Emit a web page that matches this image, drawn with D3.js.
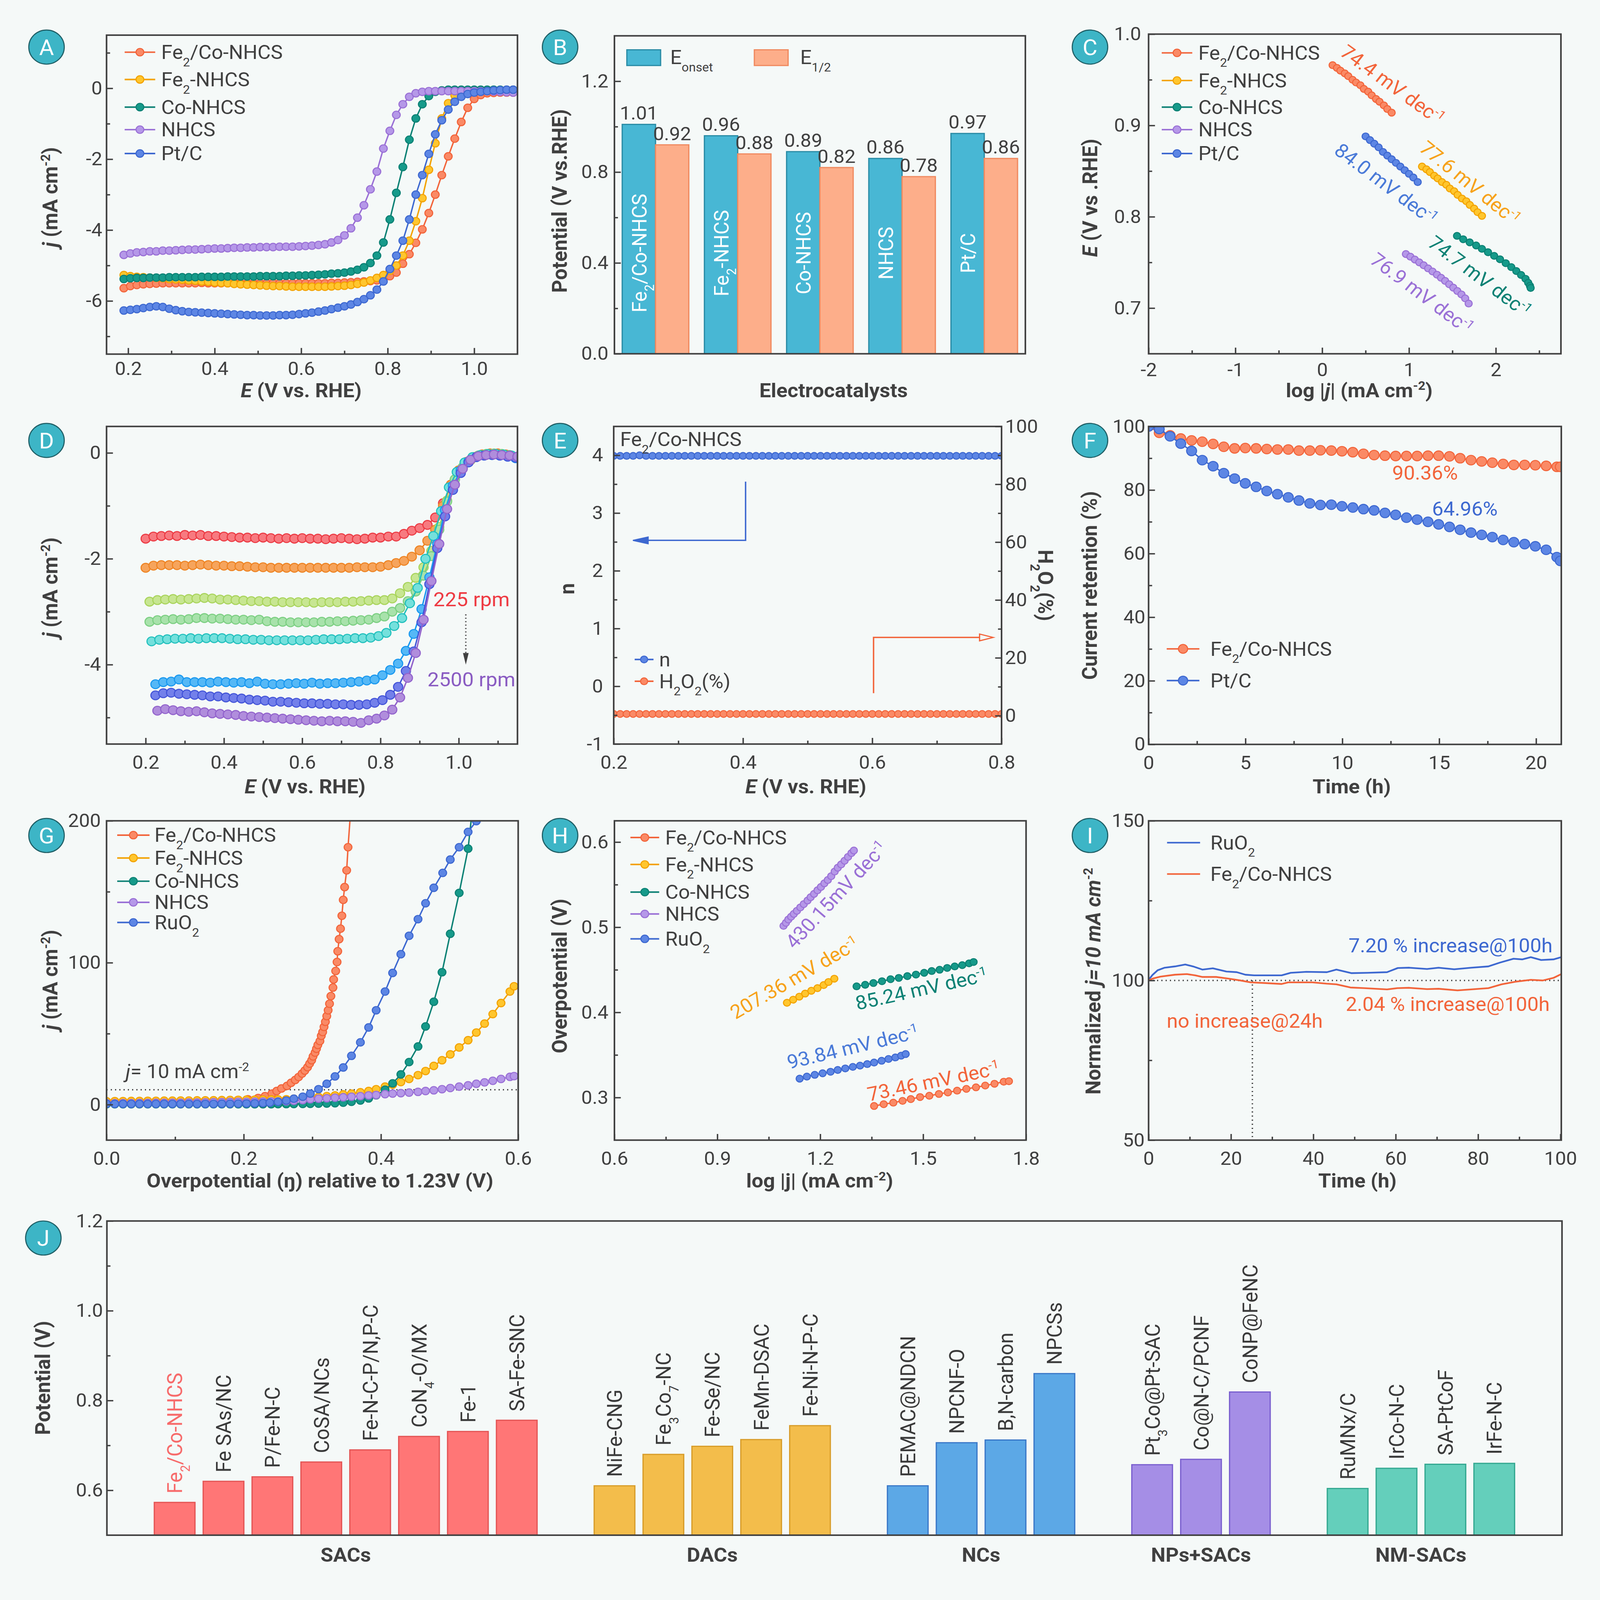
<!DOCTYPE html>
<html>
<head>
<meta charset="utf-8">
<script src="https://d3js.org/d3.v7.min.js"></script>
<style>
  html, body { margin: 0; padding: 0; overflow: hidden; background: #f5f9f8; }
  svg { display: block; width: 100vw; height: 100vh; }
</style>
</head>
<body>
<script>
// ---------------- data ----------------

// A: ORR polarisation curves, j (mA cm-2) read every 15 mV starting at 0.19 V
const aStart = 0.19, aStep = 0.015;
const aFeCo = [-5.64,-5.58,-5.55,-5.53,-5.52,-5.51,-5.50,-5.50,-5.50,-5.50,
  -5.50,-5.50,-5.49,-5.50,-5.50,-5.50,-5.50,-5.49,-5.50,-5.50,
  -5.50,-5.50,-5.50,-5.49,-5.50,-5.50,-5.50,-5.50,-5.50,-5.50,
  -5.50,-5.50,-5.49,-5.49,-5.48,-5.47,-5.46,-5.45,-5.44,-5.42,
  -5.38,-5.30,-5.20,-4.95,-4.68,-4.36,-3.98,-3.52,-3.00,-2.45,
  -1.92,-1.42,-0.95,-0.55,-0.30,-0.19,-0.14,-0.13,-0.12,-0.12,-0.12];
const aFe = [-5.27,-5.30,-5.32,-5.33,-5.34,-5.35,-5.36,-5.38,-5.39,-5.40,
  -5.42,-5.43,-5.45,-5.46,-5.48,-5.49,-5.50,-5.52,-5.53,-5.54,
  -5.55,-5.56,-5.57,-5.58,-5.58,-5.59,-5.60,-5.60,-5.60,-5.60,
  -5.60,-5.60,-5.59,-5.58,-5.57,-5.55,-5.52,-5.48,-5.42,-5.35,
  -5.27,-5.15,-5.00,-4.72,-4.30,-3.75,-3.10,-2.30,-1.55,-0.85,
  -0.42,-0.20,-0.09,-0.06,-0.05,-0.05,-0.05,-0.05,-0.05,-0.05,-0.05];
const aCo = [-5.38,-5.36,-5.35,-5.35,-5.34,-5.34,-5.34,-5.33,-5.33,-5.33,
  -5.33,-5.33,-5.32,-5.32,-5.32,-5.32,-5.31,-5.31,-5.31,-5.31,
  -5.31,-5.30,-5.30,-5.30,-5.30,-5.29,-5.29,-5.28,-5.28,-5.27,
  -5.26,-5.25,-5.23,-5.22,-5.20,-5.17,-5.12,-5.05,-4.93,-4.72,
  -4.35,-3.70,-2.95,-2.22,-1.45,-0.85,-0.45,-0.22,-0.10,-0.06,
  -0.04,-0.04,-0.04,-0.04,-0.04,-0.04,-0.04,-0.04,-0.04,-0.04,-0.04];
const aNhcs = [-4.70,-4.66,-4.63,-4.62,-4.60,-4.60,-4.58,-4.58,-4.57,-4.56,
  -4.55,-4.55,-4.54,-4.53,-4.52,-4.52,-4.51,-4.50,-4.50,-4.49,
  -4.49,-4.48,-4.48,-4.48,-4.47,-4.47,-4.47,-4.46,-4.45,-4.44,
  -4.42,-4.40,-4.35,-4.28,-4.15,-3.95,-3.65,-3.30,-2.85,-2.35,
  -1.70,-1.20,-0.75,-0.45,-0.24,-0.14,-0.10,-0.08,-0.08,-0.08,
  -0.08,-0.08,-0.08,-0.08,-0.08,-0.08,-0.08,-0.09,-0.10,-0.11,-0.12];
const aPt = [-6.27,-6.25,-6.23,-6.20,-6.17,-6.15,-6.17,-6.22,-6.26,-6.29,
  -6.31,-6.32,-6.33,-6.34,-6.35,-6.36,-6.37,-6.38,-6.39,-6.40,
  -6.40,-6.41,-6.41,-6.41,-6.40,-6.40,-6.39,-6.37,-6.35,-6.33,
  -6.30,-6.27,-6.23,-6.19,-6.15,-6.10,-6.03,-5.95,-5.84,-5.68,
  -5.45,-5.10,-4.72,-4.30,-3.70,-3.00,-2.45,-1.85,-1.30,-0.90,
  -0.60,-0.38,-0.24,-0.16,-0.12,-0.10,-0.08,-0.06,-0.05,-0.04,-0.04];
const catalystsA = ["Fe{_2}/Co-NHCS", "Fe{_2}-NHCS", "Co-NHCS", "NHCS", "Pt/C"];

// B: onset and half-wave potentials
const bCats = ["Fe{_2}/Co-NHCS", "Fe{_2}-NHCS", "Co-NHCS", "NHCS", "Pt/C"];
const bOnset = [1.01, 0.96, 0.89, 0.86, 0.97];
const bHalf = [0.92, 0.88, 0.82, 0.78, 0.86];

// C: Tafel plots [log|j|, E]
const cFeCo = [[0.12,0.966],[0.17,0.963],[0.21,0.960],[0.26,0.957],[0.30,0.954],[0.35,0.950],[0.39,0.947],[0.44,0.944],
  [0.48,0.940],[0.53,0.937],[0.57,0.933],[0.62,0.929],[0.66,0.926],[0.71,0.922],[0.75,0.918],[0.80,0.914]];
const cFe = [[1.15,0.855],[1.20,0.852],[1.24,0.849],[1.29,0.845],[1.33,0.842],[1.38,0.838],[1.43,0.835],[1.47,0.831],
  [1.52,0.828],[1.56,0.824],[1.61,0.820],[1.66,0.817],[1.70,0.813],[1.75,0.809],[1.79,0.805],[1.84,0.801]];
const cCo = [[1.553,0.7791],[1.624,0.7754],[1.699,0.7720],[1.773,0.7686],[1.840,0.7649],[1.910,0.7612],[1.981,0.7572],
  [2.048,0.7535],[2.114,0.7492],[2.178,0.7449],[2.236,0.7406],[2.291,0.7363],[2.342,0.7321],[2.373,0.7278],[2.393,0.7244],[2.401,0.7221]];
const cNhcs = [[0.964,0.7592],[1.016,0.7563],[1.067,0.7532],[1.118,0.7501],[1.169,0.7469],[1.220,0.7435],[1.271,0.7401],
  [1.322,0.7366],[1.369,0.7332],[1.416,0.7298],[1.463,0.7261],[1.510,0.7224],[1.557,0.7187],[1.604,0.7150],[1.647,0.7107],[1.687,0.7050]];
const cPt = [[0.50,0.888],[0.55,0.884],[0.60,0.880],[0.65,0.876],[0.70,0.871],[0.75,0.867],[0.80,0.863],[0.85,0.859],
  [0.90,0.855],[0.95,0.851],[1.00,0.847],[1.05,0.843],[1.10,0.838]];
const cSlopes = ["74.4", "77.6", "74.7", "76.9", "84.0"];

// D: LSV at different rotation rates, j every 20 mV from each start potential
const dStarts = [0.20, 0.20, 0.21, 0.21, 0.215, 0.225, 0.225, 0.23];
const d225 = [-1.62,-1.58,-1.57,-1.56,-1.57,-1.55,-1.56,-1.55,-1.57,-1.57,
  -1.58,-1.59,-1.60,-1.60,-1.61,-1.60,-1.61,-1.62,-1.61,-1.62,
  -1.61,-1.62,-1.62,-1.63,-1.62,-1.61,-1.62,-1.63,-1.62,-1.60,
  -1.60,-1.58,-1.58,-1.53,-1.47,-1.42,-1.36,-1.22,-0.95,-0.60,
  -0.33,-0.17,-0.08,-0.03,-0.01,-0.01,-0.03];
const d400 = [-2.17,-2.13,-2.12,-2.12,-2.12,-2.13,-2.12,-2.11,-2.12,-2.13,
  -2.13,-2.14,-2.14,-2.15,-2.16,-2.16,-2.17,-2.17,-2.17,-2.17,
  -2.17,-2.17,-2.17,-2.17,-2.17,-2.17,-2.17,-2.16,-2.16,-2.16,
  -2.15,-2.12,-2.08,-2.04,-1.96,-1.84,-1.66,-1.45,-1.00,-0.60,
  -0.33,-0.17,-0.08,-0.03,-0.01,-0.01,-0.03];
const d625 = [-2.81,-2.78,-2.77,-2.76,-2.77,-2.76,-2.75,-2.74,-2.75,-2.77,
  -2.77,-2.78,-2.79,-2.80,-2.80,-2.81,-2.81,-2.82,-2.82,-2.82,
  -2.82,-2.83,-2.82,-2.82,-2.82,-2.81,-2.81,-2.80,-2.79,-2.78,
  -2.78,-2.75,-2.65,-2.53,-2.36,-2.16,-1.85,-1.40,-0.90,-0.50,
  -0.28,-0.14,-0.05,-0.02,-0.01,-0.02,-0.04];
const d900 = [-3.19,-3.16,-3.15,-3.14,-3.15,-3.14,-3.12,-3.12,-3.13,-3.13,
  -3.14,-3.15,-3.15,-3.16,-3.15,-3.18,-3.19,-3.19,-3.20,-3.20,
  -3.20,-3.20,-3.19,-3.19,-3.18,-3.18,-3.17,-3.16,-3.15,-3.12,
  -3.09,-3.00,-2.93,-2.80,-2.62,-2.32,-1.95,-1.45,-0.92,-0.50,
  -0.27,-0.13,-0.05,-0.02,-0.01,-0.02,-0.04];
const d1225 = [-3.56,-3.53,-3.52,-3.51,-3.51,-3.50,-3.51,-3.50,-3.50,-3.50,
  -3.51,-3.52,-3.52,-3.53,-3.53,-3.54,-3.54,-3.54,-3.54,-3.54,
  -3.54,-3.53,-3.52,-3.52,-3.52,-3.51,-3.50,-3.50,-3.49,-3.46,
  -3.40,-3.27,-3.12,-2.84,-2.55,-2.00,-1.57,-1.10,-0.65,-0.36,
  -0.18,-0.08,-0.04,-0.02,-0.02,-0.03,-0.05];
const d1600 = [-4.37,-4.33,-4.32,-4.28,-4.33,-4.33,-4.33,-4.34,-4.32,-4.33,
  -4.34,-4.33,-4.35,-4.32,-4.36,-4.37,-4.37,-4.36,-4.35,-4.36,
  -4.34,-4.36,-4.35,-4.35,-4.34,-4.33,-4.32,-4.30,-4.28,-4.20,
  -4.10,-3.98,-3.74,-3.42,-2.95,-2.35,-1.72,-1.08,-0.62,-0.33,
  -0.16,-0.08,-0.05,-0.04,-0.05,-0.07,-0.10];
const d2025 = [-4.58,-4.54,-4.53,-4.55,-4.56,-4.57,-4.58,-4.60,-4.60,-4.62,
  -4.63,-4.64,-4.66,-4.67,-4.68,-4.70,-4.70,-4.71,-4.72,-4.73,
  -4.73,-4.74,-4.74,-4.75,-4.75,-4.76,-4.76,-4.75,-4.72,-4.67,
  -4.57,-4.42,-4.12,-3.75,-3.20,-2.48,-1.80,-1.20,-0.70,-0.38,
  -0.18,-0.08,-0.05,-0.04,-0.05,-0.07,-0.09];
const d2500 = [-4.87,-4.84,-4.86,-4.88,-4.89,-4.88,-4.90,-4.92,-4.93,-4.94,
  -4.95,-4.97,-4.98,-4.99,-5.00,-5.01,-5.02,-5.03,-5.04,-5.05,
  -5.06,-5.07,-5.06,-5.07,-5.07,-5.08,-5.10,-5.05,-5.02,-4.96,
  -4.85,-4.62,-4.25,-3.78,-3.15,-2.42,-1.72,-1.06,-0.60,-0.30,
  -0.13,-0.06,-0.04,-0.03,-0.04,-0.05,-0.07];

// E: electron transfer number and peroxide yield, every 10 mV from 0.2 V
const eStart = 0.2, eStep = 0.01;
const eN = [3.99,3.99,3.99,3.99,4.00,3.99,3.99,3.99,3.99,3.99,
  3.99,3.99,3.99,3.99,3.99,3.99,3.99,3.99,3.99,3.99,
  3.99,3.99,3.99,3.99,3.99,3.99,3.99,3.99,3.99,3.99,
  3.99,3.99,3.99,3.99,3.99,3.99,3.99,3.99,3.99,3.99,
  3.99,3.99,3.99,3.99,3.99,3.99,3.99,3.99,3.99,3.99,
  3.99,3.99,3.99,3.99,3.99,3.99,3.99,3.99,3.99,3.99,3.99];
const eH2O2 = [0.6,0.6,0.6,0.6,0.6,0.6,0.6,0.6,0.6,0.6,
  0.6,0.6,0.6,0.6,0.6,0.6,0.6,0.6,0.6,0.6,
  0.6,0.6,0.6,0.6,0.6,0.6,0.6,0.6,0.6,0.6,
  0.6,0.6,0.6,0.6,0.6,0.6,0.6,0.6,0.6,0.6,
  0.6,0.6,0.6,0.6,0.6,0.6,0.6,0.6,0.6,0.6,
  0.6,0.6,0.6,0.6,0.6,0.6,0.6,0.6,0.6,0.6,0.6];

// F: chronoamperometric current retention (%)
const fTime = [0,0.55,1.11,1.66,2.22,2.77,3.33,3.88,4.44,4.99,5.55,6.10,6.65,7.21,7.76,8.32,8.87,9.43,9.98,10.54,
  11.09,11.64,12.20,12.75,13.31,13.86,14.42,14.97,15.53,16.08,16.64,17.19,17.74,18.30,18.85,19.41,19.96,20.52,21.07,21.25];
const fFeCo = [100,98.0,97.2,96.2,95.6,95.2,94.5,93.6,93.1,93.2,93.1,92.9,92.75,92.75,92.4,92.4,92.5,92.4,92.2,91.9,
  91.4,91.0,90.8,90.7,90.7,90.7,90.8,90.8,90.6,90.0,89.4,89.0,88.6,88.2,87.9,87.9,87.8,87.6,87.3,87.3];
const fPt = [100,99.2,96.9,94.6,92.3,89.4,87.5,85.3,83.6,82.1,81.0,79.7,78.7,77.7,76.7,75.8,75.3,75.4,74.9,74.5,
  74.0,73.6,72.8,72.2,71.3,70.7,70.0,69.2,68.4,67.5,66.6,65.9,65.2,64.3,63.6,63.0,62.3,61.2,58.9,57.7];

// G: OER polarisation [overpotential V, j mA cm-2]
const gFeCo = [[0,1.3],[0.012,1.4],[0.024,1.5],[0.036,1.5],[0.048,1.6],[0.06,1.6],[0.072,1.7],[0.084,1.7],[0.096,1.8],
  [0.108,1.9],[0.12,1.9],[0.132,2.0],[0.144,2.1],[0.156,2.3],[0.168,2.5],[0.18,2.8],[0.191,3.1],[0.206,3.8],[0.221,4.7],
  [0.231,6.0],[0.241,7.8],[0.248,9.6],[0.255,11.4],[0.263,13.2],[0.269,15.4],[0.275,17.4],[0.28,19.5],[0.285,21.9],
  [0.289,24.0],[0.293,26.4],[0.296,28.9],[0.299,31.3],[0.301,34.0],[0.304,36.7],[0.306,39.4],[0.308,42.1],[0.311,44.8],
  [0.313,48.5],[0.315,51.2],[0.317,54.8],[0.319,58.4],[0.321,62.4],[0.323,66.5],[0.325,71.1],[0.327,76.5],[0.33,82.5],
  [0.331,88.2],[0.334,94.2],[0.336,100.5],[0.337,108.1],[0.339,116.6],[0.341,124.0],[0.343,133.1],[0.345,144.3],
  [0.347,153.3],[0.35,165.1],[0.352,181.4],[0.358,222]];
const gFe = [[0,2.4],[0.012,2.5],[0.024,2.5],[0.036,2.6],[0.048,2.6],[0.06,2.7],[0.072,2.7],[0.084,2.8],[0.096,2.8],
  [0.108,2.9],[0.12,2.9],[0.132,3.0],[0.144,3.0],[0.156,3.1],[0.168,3.2],[0.18,3.3],[0.192,3.4],[0.204,3.5],[0.216,3.5],
  [0.228,3.6],[0.24,3.7],[0.25,3.7],[0.262,3.8],[0.273,4.2],[0.286,4.5],[0.297,4.9],[0.309,5.4],[0.321,6.0],[0.333,6.5],
  [0.345,7.2],[0.357,7.8],[0.37,8.7],[0.382,9.6],[0.393,10.9],[0.406,12.7],[0.417,14.1],[0.429,15.9],[0.441,18.1],
  [0.454,20.8],[0.465,23.7],[0.477,27.3],[0.489,31.3],[0.501,35.4],[0.514,40.3],[0.527,45.4],[0.539,50.8],[0.551,57.1],
  [0.563,63.8],[0.575,71.6],[0.588,79.7],[0.594,83.4]];
const gCo = [[0,0.3],[0.012,0.3],[0.024,0.3],[0.036,0.3],[0.048,0.3],[0.06,0.3],[0.072,0.3],[0.084,0.3],[0.096,0.3],
  [0.108,0.3],[0.12,0.3],[0.132,0.3],[0.144,0.3],[0.156,0.3],[0.168,0.3],[0.18,0.3],[0.192,0.3],[0.204,0.3],[0.216,0.3],
  [0.228,0.3],[0.24,0.3],[0.25,0.35],[0.262,0.4],[0.273,0.45],[0.286,0.5],[0.297,0.6],[0.309,0.7],[0.321,0.8],[0.333,1.0],
  [0.345,1.4],[0.357,2.0],[0.37,2.9],[0.382,4.4],[0.393,6.6],[0.406,10.5],[0.417,15.0],[0.429,21.3],[0.441,30.0],
  [0.454,41.0],[0.465,55.1],[0.477,72.5],[0.489,93.3],[0.501,120.4],[0.514,149.2],[0.527,180.4],[0.537,225]];
const gNhcs = [[0,1.0],[0.012,1.0],[0.024,1.1],[0.036,1.1],[0.048,1.2],[0.06,1.2],[0.072,1.3],[0.084,1.3],[0.096,1.4],
  [0.108,1.4],[0.12,1.5],[0.132,1.5],[0.144,1.6],[0.156,1.7],[0.168,1.8],[0.18,1.9],[0.192,2.0],[0.204,2.0],[0.216,2.1],
  [0.228,2.2],[0.24,2.3],[0.25,2.3],[0.262,2.4],[0.273,2.7],[0.286,3.2],[0.297,3.8],[0.309,4.2],[0.321,4.5],[0.333,4.9],
  [0.345,5.2],[0.357,5.6],[0.37,6.0],[0.382,6.5],[0.393,6.8],[0.406,7.4],[0.417,7.8],[0.429,8.1],[0.441,8.5],[0.454,9.0],
  [0.465,9.6],[0.477,10.1],[0.489,10.9],[0.501,11.7],[0.514,12.7],[0.527,13.6],[0.539,14.7],[0.551,15.7],[0.563,16.8],
  [0.575,18.1],[0.588,19.6],[0.594,20.1]];
const gRuO2 = [[0,0.6],[0.012,0.5],[0.024,0.5],[0.036,0.5],[0.048,0.5],[0.06,0.5],[0.072,0.5],[0.084,0.5],[0.096,0.5],
  [0.108,0.5],[0.12,0.5],[0.132,0.5],[0.144,0.5],[0.156,0.5],[0.168,0.6],[0.18,0.6],[0.192,0.7],[0.204,0.8],[0.216,0.9],
  [0.228,1.1],[0.238,1.4],[0.25,2.0],[0.262,2.9],[0.273,4.2],[0.286,5.6],[0.297,7.8],[0.309,10.9],[0.321,14.7],
  [0.333,19.9],[0.345,26.2],[0.357,34.4],[0.37,43.9],[0.382,54.4],[0.393,66.5],[0.406,79.7],[0.417,92.8],[0.429,106.0],
  [0.441,119.0],[0.454,130.7],[0.465,141.9],[0.477,152.8],[0.49,163.3],[0.501,172.7],[0.514,181.4],[0.527,192.2],
  [0.539,199.8],[0.55,225]];
const catalystsG = ["Fe{_2}/Co-NHCS", "Fe{_2}-NHCS", "Co-NHCS", "NHCS", "RuO{_2}"];

// H: OER Tafel plots [log|j|, overpotential V]
const hFeCo = [[1.357,0.2901],[1.385,0.2922],[1.413,0.2940],[1.440,0.2961],[1.464,0.2982],[1.491,0.3006],[1.518,0.3021],
  [1.546,0.3042],[1.572,0.3060],[1.599,0.3081],[1.626,0.3102],[1.654,0.3120],[1.681,0.3141],[1.708,0.3162],[1.735,0.3186],[1.750,0.3192]];
const hFe = [[1.103,0.4113],[1.121,0.4149],[1.139,0.4185],[1.156,0.4221],[1.174,0.4254],[1.192,0.4285],[1.210,0.4321],
  [1.224,0.4357],[1.241,0.4396]];
const hCo = [[1.306,0.4306],[1.331,0.4324],[1.355,0.4345],[1.380,0.4366],[1.405,0.4390],[1.429,0.4405],[1.454,0.4426],
  [1.479,0.4444],[1.503,0.4465],[1.525,0.4486],[1.548,0.4501],[1.570,0.4522],[1.592,0.4540],[1.614,0.4555],[1.634,0.4576],[1.647,0.4592]];
const hNhcs = [[1.093,0.5016],[1.100,0.5052],[1.107,0.5091],[1.115,0.5124],[1.123,0.5157],[1.132,0.5193],[1.142,0.5233],
  [1.152,0.5272],[1.163,0.5314],[1.172,0.5353],[1.182,0.5392],[1.192,0.5434],[1.202,0.5473],[1.212,0.5516],[1.222,0.5555],
  [1.232,0.5600],[1.242,0.5654],[1.251,0.5699],[1.261,0.5738],[1.271,0.5781],[1.281,0.5826],[1.291,0.5871],[1.298,0.5901]];
const hRuO2 = [[1.140,0.3222],[1.161,0.3246],[1.184,0.3267],[1.207,0.3285],[1.230,0.3303],[1.251,0.3324],[1.273,0.3342],
  [1.295,0.3360],[1.316,0.3375],[1.337,0.3393],[1.357,0.3411],[1.379,0.3432],[1.399,0.3453],[1.419,0.3471],[1.436,0.3492],[1.449,0.3511]];
const hSlopes = ["73.46", "207.36", "85.24", "430.15", "93.84"];

// I: long-term OER stability, normalised potential (%) vs time (h)
const iRuO2 = [[0,100.2],[1,101.8],[2.2,103.2],[3.9,104.0],[6.4,104.4],[8.9,105.0],[10.8,104.4],[13.1,103.4],[15.6,103.8],
  [18.9,102.8],[21.4,102.6],[23.5,101.8],[25.6,101.6],[32.3,101.6],[34.5,102.4],[38.3,102.7],[43.3,102.6],[45.6,103.4],
  [49.2,102.3],[53.2,102.4],[57.9,102.6],[60.5,103.9],[63.3,104.0],[67.6,103.6],[70.4,104.0],[74.2,103.5],[78.3,104.0],
  [82.5,104.4],[85.3,105.6],[88.6,106.8],[90.7,106.6],[92.8,107.3],[95.3,106.4],[98.3,106.6],[100.2,107.3]];
const iFeCo = [[0,100.0],[1,100.6],[2.9,101.2],[6.4,101.8],[9.3,102.0],[11.3,101.6],[13.1,101.1],[16.4,101.1],[19.3,100.6],
  [22.3,100.0],[24.8,99.4],[28.1,99.2],[32.3,98.9],[33.9,99.4],[39.8,99.4],[43.2,99.0],[45.6,98.8],[49.0,97.8],[52.4,97.6],
  [57.9,97.2],[60.4,97.6],[63.3,97.7],[67.6,97.3],[70.4,97.4],[75.0,96.9],[78.3,97.2],[82.5,97.6],[85.7,98.8],[89.0,99.6],
  [92.8,100.2],[95.7,100.0],[98.3,100.8],[100.2,102.0]];

// J: comparison of potentials with reported catalysts
const jGroups = ["SACs", "DACs", "NCs", "NPs+SACs", "NM-SACs"];
const jLabels = [
  ["Fe{_2}/Co-NHCS", "Fe SAs/NC", "P/Fe-N-C", "CoSA/NCs", "Fe-N-C-P/N,P-C", "CoN{_4}-O/MX", "Fe-1", "SA-Fe-SNC"],
  ["NiFe-CNG", "Fe{_3}Co{_7}-NC", "Fe-Se/NC", "FeMn-DSAC", "Fe-Ni-N-P-C"],
  ["PEMAC@NDCN", "NPCNF-O", "B,N-carbon", "NPCSs"],
  ["Pt{_3}Co@Pt-SAC", "Co@N-C/PCNF", "CoNP@FeNC"],
  ["RuMNx/C", "IrCo-N-C", "SA-PtCoF", "IrFe-N-C"]
];
const jValues = [
  [0.573, 0.620, 0.630, 0.663, 0.690, 0.720, 0.731, 0.756],
  [0.610, 0.680, 0.698, 0.713, 0.744],
  [0.610, 0.706, 0.712, 0.860],
  [0.657, 0.669, 0.819],
  [0.604, 0.649, 0.658, 0.660]
];

// ---------------- drawing ----------------
const W = 4505, H = 4690, ink = "#404040";
const svg = d3.select("body").append("svg")
  .attr("viewBox", `0 0 ${W} ${H}`)
  .attr("preserveAspectRatio", "none")
  .attr("font-family", "Roboto, sans-serif");
svg.append("rect").attr("width", W).attr("height", H).attr("fill", "#f5f9f8");

// colours for the five catalysts
const c5 = [
  { s: "#f2643a", f: "#fa8a66" },
  { s: "#f3a200", f: "#ffc62e" },
  { s: "#0c8174", f: "#169a8a" },
  { s: "#9a70d6", f: "#b598e8" },
  { s: "#3d68d0", f: "#5d86e4" }
];
const dCols = [
  { s: "#ec3a43", f: "#f77a80" }, { s: "#ee8424", f: "#f6a45c" },
  { s: "#a9d45c", f: "#c7e692" }, { s: "#7ccf82", f: "#a8e2ab" },
  { s: "#22c0bd", f: "#74e0dc" }, { s: "#1998ef", f: "#55b8f6" },
  { s: "#4354d8", f: "#7380ea" }, { s: "#9263cc", f: "#b08ddc" }
];

const f1 = d => (d < 0 ? "-" : "") + Math.abs(d).toFixed(1);
const f0 = d => (d < 0 ? "-" : "") + Math.abs(d);

// text with {_sub}, {^sup} and {i:italic} markup
function rich(t, s) {
  const re = /\{(_|\^|i:)([^}]*)\}/g;
  let last = 0, m;
  while ((m = re.exec(s))) {
    if (m.index > last) t.append("tspan").text(s.slice(last, m.index));
    const sp = t.append("tspan").text(m[2]);
    if (m[1] === "_") sp.attr("baseline-shift", "sub").attr("font-size", "62%");
    else if (m[1] === "^") sp.attr("baseline-shift", "super").attr("font-size", "62%");
    else sp.attr("font-style", "italic");
    last = re.lastIndex;
  }
  if (last < s.length) t.append("tspan").text(s.slice(last));
}

function label(parent, x, y, s, o = {}) {
  const t = parent.append("text").attr("x", x).attr("y", y)
    .attr("font-size", o.size || 57).attr("fill", o.fill || ink)
    .attr("text-anchor", o.anchor || "start");
  if (o.weight) t.attr("font-weight", o.weight);
  if (o.rot) t.attr("transform", `rotate(${o.rot},${x},${y})`);
  rich(t, s);
  return t;
}

function yTitle(cx, cy, s) {
  label(svg, cx + 21, cy, s, { rot: -90, anchor: "middle", weight: "bold", size: 59 });
}
function xTitle(cx, y, s) {
  label(svg, cx, y, s, { anchor: "middle", weight: "bold", size: 58 });
}

function badge(x, y, s) {
  svg.append("circle").attr("cx", x).attr("cy", y).attr("r", 50)
    .attr("fill", "#3db5c6").attr("stroke", "#1f5f66").attr("stroke-width", 3);
  svg.append("text").attr("x", x).attr("y", y + 23).attr("text-anchor", "middle")
    .attr("fill", "#fff").attr("font-size", 64).text(s);
}

let nClip = 0;
function panel(b) {
  const id = "clip" + nClip++;
  svg.append("clipPath").attr("id", id).append("rect")
    .attr("x", b.l).attr("y", b.t).attr("width", b.r - b.l).attr("height", b.b - b.t);
  const g = svg.append("g");
  const plot = g.append("g").attr("clip-path", `url(#${id})`);
  return { g, plot, b };
}
function box(p) {
  p.g.append("rect").attr("x", p.b.l).attr("y", p.b.t)
    .attr("width", p.b.r - p.b.l).attr("height", p.b.b - p.b.t)
    .attr("fill", "none").attr("stroke", ink).attr("stroke-width", 4.5);
}
function tidy(a) {
  a.select(".domain").remove();
  a.attr("font-family", "Roboto, sans-serif").attr("font-size", 55);
  a.selectAll("line").attr("stroke", ink).attr("stroke-width", 4);
  a.selectAll("text").attr("fill", ink);
}
// ticks point into the plot; minor ticks are shorter and unlabelled
function addAxis(p, make, tr, major, minor, fmt, pad) {
  p.g.append("g").attr("transform", tr)
    .call(make().tickValues(major).tickSizeInner(-18).tickSizeOuter(0).tickPadding(pad).tickFormat(fmt))
    .call(tidy);
  if (minor) p.g.append("g").attr("transform", tr)
    .call(make().tickValues(minor).tickSizeInner(-10).tickSizeOuter(0).tickFormat(""))
    .call(tidy);
}

function series(p, x, y, pts, c, r, lw) {
  const ln = d3.line().x(d => x(d[0])).y(d => y(d[1]));
  p.plot.append("path").datum(pts).attr("d", ln).attr("fill", "none")
    .attr("stroke", c.s).attr("stroke-width", lw || 4).attr("stroke-linejoin", "round");
  if (r) p.plot.append("g").selectAll("circle").data(pts).join("circle")
    .attr("cx", d => x(d[0])).attr("cy", d => y(d[1])).attr("r", r)
    .attr("fill", c.f).attr("stroke", c.s).attr("stroke-width", 3);
}

function legend(p, x0, x1, tx, ys, names, cols, r) {
  names.forEach((nm, i) => {
    const y = ys[i];
    p.g.append("line").attr("x1", x0).attr("x2", x1).attr("y1", y).attr("y2", y)
      .attr("stroke", cols[i].s).attr("stroke-width", 4.5);
    if (r) p.g.append("circle").attr("cx", (x0 + x1) / 2).attr("cy", y).attr("r", r)
      .attr("fill", cols[i].f).attr("stroke", cols[i].s).attr("stroke-width", 3);
    label(p.g, tx, y + 20, nm);
  });
}

// ---------- A ----------
{
  const b = { l: 300, r: 1457, t: 103, b: 1038 };
  const x = d3.scaleLinear().domain([0.15, 1.1]).range([b.l, b.r]);
  const y = d3.scaleLinear().domain([-7.5, 1.5]).range([b.b, b.t]);
  const p = panel(b);
  [aFeCo, aFe, aCo, aNhcs, aPt].forEach((arr, k) =>
    series(p, x, y, arr.map((v, i) => [aStart + aStep * i, v]), c5[k], 11));
  addAxis(p, () => d3.axisBottom(x), `translate(0,${b.b})`, [0.2, 0.4, 0.6, 0.8, 1.0], [0.3, 0.5, 0.7, 0.9], f1, 22);
  addAxis(p, () => d3.axisLeft(y), `translate(${b.l},0)`, [-6, -4, -2, 0], [-7, -5, -3, -1, 1], f0, 12);
  legend(p, 351, 437, 454, [153, 233, 314, 380, 450], catalystsA, c5, 11);
  box(p);
  yTitle(141, 578, "{i:j} (mA cm{^-2})");
  xTitle(848, 1164, "{i:E} (V vs. RHE)");
  badge(131, 138, "A");
}

// ---------- B ----------
{
  const b = { l: 1730, r: 2887, t: 105, b: 1037 };
  const x = d3.scaleBand().domain(bCats).range([b.l, b.r]).paddingInner(0.19).paddingOuter(0.095);
  const y = d3.scaleLinear().domain([0, 1.4]).range([b.b, b.t]);
  const p = panel(b);
  const w = x.bandwidth() / 2;
  const sets = [
    { v: bOnset, dx: 0, f: "#48b7d4", s: "#2a8ca6" },
    { v: bHalf, dx: w, f: "#fdae8a", s: "#f08a60" }
  ];
  sets.forEach(st => {
    p.plot.append("g").selectAll("rect").data(bCats).join("rect")
      .attr("x", d => x(d) + st.dx).attr("width", w)
      .attr("y", (d, i) => y(st.v[i])).attr("height", (d, i) => y(0) - y(st.v[i]))
      .attr("fill", st.f).attr("stroke", st.s).attr("stroke-width", 3.5);
    bCats.forEach((d, i) => label(p.g, x(d) + st.dx + w / 2, y(st.v[i]) - 14, st.v[i].toFixed(2),
      { anchor: "middle", size: 55 }));
  });
  bCats.forEach(d => label(p.g, x(d) + w / 2 + 21, 742, d,
    { rot: -90, anchor: "middle", fill: "#ffffff", size: 58 }));
  addAxis(p, () => d3.axisLeft(y), `translate(${b.l},0)`, [0, 0.4, 0.8, 1.2], [0.2, 0.6, 1.0], f1, 17);
  // legend
  p.g.append("rect").attr("x", 1765).attr("y", 146).attr("width", 95).attr("height", 46)
    .attr("fill", "#48b7d4").attr("stroke", "#2a8ca6").attr("stroke-width", 3.5);
  label(p.g, 1887, 188, "E{_onset}");
  p.g.append("rect").attr("x", 2124).attr("y", 146).attr("width", 95).attr("height", 46)
    .attr("fill", "#fdae8a").attr("stroke", "#f08a60").attr("stroke-width", 3.5);
  label(p.g, 2253, 188, "E{_1/2}");
  box(p);
  yTitle(1575, 589, "Potential (V vs.RHE)");
  xTitle(2347, 1164, "Electrocatalysts");
  badge(1577, 138, "B");
}

// ---------- C ----------
{
  const b = { l: 3234, r: 4395, t: 100, b: 1037 };
  const x = d3.scaleLinear().domain([-2, 2.75]).range([b.l, b.r]);
  const y = d3.scaleLinear().domain([0.65, 1.0]).range([b.b, b.t]);
  const p = panel(b);
  [cFeCo, cFe, cCo, cNhcs, cPt].forEach((pts, k) => series(p, x, y, pts, c5[k], 10));
  addAxis(p, () => d3.axisBottom(x), `translate(0,${b.b})`, [-2, -1, 0, 1, 2], [-1.5, -0.5, 0.5, 1.5, 2.5], f0, 27);
  addAxis(p, () => d3.axisLeft(y), `translate(${b.l},0)`, [0.7, 0.8, 0.9, 1.0], [0.75, 0.85, 0.95], f1, 21);
  legend(p, 3271, 3357, 3374, [155, 236, 314, 380, 450], catalystsA, c5, 11);
  const pos = [[3770, 160, 37], [3993, 440, 40], [4017, 719, 38], [3854, 769, 38], [3753, 448, 38]];
  const tc = ["#f2643a", "#f7a21b", "#0c8174", "#9a70d6", "#4a7ad8"];
  cSlopes.forEach((s, k) => label(p.g, pos[k][0], pos[k][1], s + " mV dec{^-1}",
    { rot: pos[k][2], fill: tc[k] }));
  box(p);
  yTitle(3069, 580, "{i:E} (V vs .RHE)");
  xTitle(3827, 1164, "log |{i:j}| (mA cm{^-2})");
  badge(3069, 138, "C");
}

// ---------- D ----------
{
  const b = { l: 300, r: 1457, t: 1250, b: 2181 };
  const x = d3.scaleLinear().domain([0.1, 1.15]).range([b.l, b.r]);
  const y = d3.scaleLinear().domain([-5.5, 0.5]).range([b.b, b.t]);
  const p = panel(b);
  [d225, d400, d625, d900, d1225, d1600, d2025, d2500].forEach((arr, k) =>
    series(p, x, y, arr.map((v, i) => [dStarts[k] + 0.02 * i, v]), dCols[k], 13));
  addAxis(p, () => d3.axisBottom(x), `translate(0,${b.b})`, [0.2, 0.4, 0.6, 0.8, 1.0], [0.3, 0.5, 0.7, 0.9, 1.1], f1, 33);
  addAxis(p, () => d3.axisLeft(y), `translate(${b.l},0)`, [-4, -2, 0], [-5, -3, -1], f0, 16);
  label(p.g, x(0.935), y(-2.9), "225 rpm", { fill: "#ee3b43", size: 58 });
  label(p.g, x(0.92), y(-4.41), "2500 rpm", { fill: "#8a5cc2", size: 58 });
  p.g.append("line").attr("x1", x(1.018)).attr("x2", x(1.018)).attr("y1", y(-3.05)).attr("y2", y(-3.8))
    .attr("stroke", ink).attr("stroke-width", 4).attr("stroke-dasharray", "3 7");
  p.g.append("path")
    .attr("d", `M${x(1.018) - 8},${y(-3.78)} L${x(1.018) + 8},${y(-3.78)} L${x(1.018)},${y(-4.0)} Z`)
    .attr("fill", ink);
  box(p);
  yTitle(141, 1722, "{i:j} (mA cm{^-2})");
  xTitle(859, 2325, "{i:E} (V vs. RHE)");
  badge(131, 1291, "D");
}

// ---------- E ----------
{
  const b = { l: 1728, r: 2820, t: 1250, b: 2181 };
  const x = d3.scaleLinear().domain([0.2, 0.8]).range([b.l, b.r]);
  const yN = d3.scaleLinear().domain([-1, 4.5]).range([b.b, b.t]);
  const yR = d3.scaleLinear().domain([-9.8, 100]).range([b.b, b.t]);
  const p = panel(b);
  series(p, x, yN, eN.map((v, i) => [eStart + eStep * i, v]), c5[4], 10);
  series(p, x, yR, eH2O2.map((v, i) => [eStart + eStep * i, v]), c5[0], 10);
  addAxis(p, () => d3.axisBottom(x), `translate(0,${b.b})`, [0.2, 0.4, 0.6, 0.8], [0.3, 0.5, 0.7], f1, 33);
  addAxis(p, () => d3.axisLeft(yN), `translate(${b.l},0)`, [-1, 0, 1, 2, 3, 4], [-0.5, 0.5, 1.5, 2.5, 3.5], f0, 30);
  addAxis(p, () => d3.axisRight(yR), `translate(${b.r},0)`, [0, 20, 40, 60, 80, 100], [10, 30, 50, 70, 90], f0, 10);
  // arrows pointing to the matching axes
  p.g.append("path").attr("d", `M${x(0.404)},${yN(3.544)} V${yN(2.527)} H${x(0.25)}`)
    .attr("fill", "none").attr("stroke", c5[4].s).attr("stroke-width", 4);
  p.g.append("path")
    .attr("d", `M${x(0.2297)},${yN(2.527)} L${x(0.2533)},${yN(2.527) - 10} L${x(0.2533)},${yN(2.527) + 10} Z`)
    .attr("fill", c5[4].s).attr("stroke", c5[4].s).attr("stroke-width", 3);
  p.g.append("path").attr("d", `M${x(0.602)},${yN(-0.118)} V${yN(0.846)} H${x(0.766)}`)
    .attr("fill", "none").attr("stroke", c5[0].s).attr("stroke-width", 4);
  p.g.append("path")
    .attr("d", `M${x(0.787)},${yN(0.846)} L${x(0.766)},${yN(0.846) - 10} L${x(0.766)},${yN(0.846) + 10} Z`)
    .attr("fill", "none").attr("stroke", c5[0].s).attr("stroke-width", 3.5);
  label(p.g, 1746, 1308, "Fe{_2}/Co-NHCS");
  legend(p, 1787, 1840, 1856, [1933, 1997], ["n", "H{_2}O{_2}(%)"], [c5[4], c5[0]], 10);
  box(p);
  yTitle(1596, 1726, "n");
  label(svg, 2923, 1716, "H{_2}O{_2}(%)", { rot: 90, anchor: "middle", weight: "bold", size: 59 });
  xTitle(2269, 2325, "{i:E} (V vs. RHE)");
  badge(1577, 1291, "E");
}

// ---------- F ----------
{
  const b = { l: 3234, r: 4396, t: 1250, b: 2182 };
  const x = d3.scaleLinear().domain([0, 21.3]).range([b.l, b.r]);
  const y = d3.scaleLinear().domain([0, 100]).range([b.b, b.t]);
  const p = panel(b);
  series(p, x, y, fTime.map((t, i) => [t, fFeCo[i]]), c5[0], 14);
  series(p, x, y, fTime.map((t, i) => [t, fPt[i]]), c5[4], 14);
  addAxis(p, () => d3.axisBottom(x), `translate(0,${b.b})`, [0, 5, 10, 15, 20], [2.5, 7.5, 12.5, 17.5], f0, 33);
  addAxis(p, () => d3.axisLeft(y), `translate(${b.l},0)`, [0, 20, 40, 60, 80, 100], [10, 30, 50, 70, 90], f0, 9);
  label(p.g, 3920, 1406, "90.36%", { fill: c5[0].s });
  label(p.g, 4032, 1511, "64.96%", { fill: c5[4].s });
  legend(p, 3285, 3377, 3408, [1902, 1995], ["Fe{_2}/Co-NHCS", "Pt/C"], [c5[0], c5[4]], 13);
  box(p);
  yTitle(3067, 1716, "Current retention (%)");
  xTitle(3806, 2325, "Time (h)");
  badge(3069, 1291, "F");
}

// ---------- G ----------
{
  const b = { l: 300, r: 1459, t: 2406, b: 3342 };
  const x = d3.scaleLinear().domain([0, 0.6]).range([b.l, b.r]);
  const y = d3.scaleLinear().domain([-25, 200]).range([b.b, b.t]);
  const p = panel(b);
  p.plot.append("line").attr("x1", b.l).attr("x2", b.r).attr("y1", y(10.5)).attr("y2", y(10.5))
    .attr("stroke", "#333").attr("stroke-width", 4).attr("stroke-dasharray", "3 9");
  [gFeCo, gFe, gCo, gNhcs, gRuO2].forEach((pts, k) => series(p, x, y, pts, c5[k], 11));
  addAxis(p, () => d3.axisBottom(x), `translate(0,${b.b})`, [0, 0.2, 0.4, 0.6], [0.1, 0.3, 0.5], f1, 33);
  addAxis(p, () => d3.axisLeft(y), `translate(${b.l},0)`, [0, 100, 200], [50, 150], f0, 16);
  label(p.g, 354, 3160, "{i:j}= 10 mA cm{^-2}");
  legend(p, 330, 421, 435, [2448, 2515, 2583, 2645, 2704], catalystsG, c5, 11);
  box(p);
  yTitle(141, 2872, "{i:j} (mA cm{^-2})");
  xTitle(901, 3481, "Overpotential (ŋ) relative to 1.23V (V)");
  badge(131, 2449, "G");
}

// ---------- H ----------
{
  const b = { l: 1730, r: 2889, t: 2406, b: 3342 };
  const x = d3.scaleLinear().domain([0.6, 1.8]).range([b.l, b.r]);
  const y = d3.scaleLinear().domain([0.25, 0.625]).range([b.b, b.t]);
  const p = panel(b);
  [hFeCo, hFe, hCo, hNhcs, hRuO2].forEach((pts, k) => series(p, x, y, pts, c5[k], 10));
  addAxis(p, () => d3.axisBottom(x), `translate(0,${b.b})`, [0.6, 0.9, 1.2, 1.5, 1.8], [0.75, 1.05, 1.35, 1.65], f1, 33);
  addAxis(p, () => d3.axisLeft(y), `translate(${b.l},0)`, [0.3, 0.4, 0.5, 0.6], [0.35, 0.45, 0.55], f1, 17);
  legend(p, 1775, 1856, 1873, [2455, 2534, 2615, 2679, 2752], catalystsG, c5, 11);
  const pos = [[2447, 3228, -12], [2071, 2989, -31], [2414, 2961, -13], [2237, 2784, -48], [2222, 3134, -14]];
  const tc = ["#f2643a", "#f7a21b", "#0c8174", "#9a70d6", "#4a7ad8"];
  hSlopes.forEach((s, k) => label(p.g, pos[k][0], pos[k][1],
    s + (k === 3 ? "mV dec{^-1}" : " mV dec{^-1}"), { rot: pos[k][2], fill: tc[k] }));
  box(p);
  yTitle(1575, 2861, "Overpotential (V)");
  xTitle(2308, 3481, "log |j| (mA cm{^-2})");
  badge(1577, 2449, "H");
}

// ---------- I ----------
{
  const b = { l: 3234, r: 4396, t: 2406, b: 3342 };
  const x = d3.scaleLinear().domain([0, 100.2]).range([b.l, b.r]);
  const y = d3.scaleLinear().domain([50, 150]).range([b.b, b.t]);
  const p = panel(b);
  p.plot.append("line").attr("x1", b.l).attr("x2", b.r).attr("y1", y(100)).attr("y2", y(100))
    .attr("stroke", "#333").attr("stroke-width", 4).attr("stroke-dasharray", "3 9");
  p.plot.append("line").attr("x1", x(25.2)).attr("x2", x(25.2)).attr("y1", y(100)).attr("y2", y(50))
    .attr("stroke", "#333").attr("stroke-width", 4).attr("stroke-dasharray", "3 9");
  series(p, x, y, iRuO2, c5[4], 0, 5);
  series(p, x, y, iFeCo, c5[0], 0, 5);
  addAxis(p, () => d3.axisBottom(x), `translate(0,${b.b})`, [0, 20, 40, 60, 80, 100], [10, 30, 50, 70, 90], f0, 33);
  addAxis(p, () => d3.axisLeft(y), `translate(${b.l},0)`, [50, 100, 150], [75, 125], f0, 11);
  label(p.g, 3797, 2791, "7.20 % increase@100h", { fill: c5[4].s });
  label(p.g, 3789, 2963, "2.04 % increase@100h", { fill: c5[0].s });
  label(p.g, 3285, 3013, "no increase@24h", { fill: c5[0].s });
  legend(p, 3286, 3379, 3408, [2470, 2562], ["RuO{_2}", "Fe{_2}/Co-NHCS"], [c5[4], c5[0]], 0);
  box(p);
  yTitle(3077, 2876, "Normalized {i:j=10 mA cm}{^-2}");
  xTitle(3822, 3481, "Time (h)");
  badge(3069, 2449, "I");
}

// ---------- J ----------
{
  const b = { l: 301, r: 4398, t: 3579, b: 4500 };
  const jCols = [
    { f: "#ff7676", s: "#e45555" }, { f: "#f3bd4b", s: "#d89d2a" },
    { f: "#5ca8e6", s: "#3a78c8" }, { f: "#a58ee6", s: "#7a5fcf" },
    { f: "#64cfbb", s: "#34a891" }
  ];
  // one empty slot between groups
  const keys = [];
  jLabels.forEach((names, gi) => {
    if (gi > 0) keys.push("gap" + gi);
    names.forEach((n, k) => keys.push(gi + ":" + k));
  });
  const x = d3.scaleBand().domain(keys).range([b.l, b.r]).paddingInner(0.168).paddingOuter(0.97);
  const y = d3.scaleLinear().domain([0.5, 1.2]).range([b.b, b.t]);
  const p = panel(b);
  jLabels.forEach((names, gi) => {
    const data = names.map((n, k) => ({ key: gi + ":" + k, name: n, v: jValues[gi][k] }));
    p.plot.append("g").selectAll("rect").data(data).join("rect")
      .attr("x", d => x(d.key)).attr("width", x.bandwidth())
      .attr("y", d => y(d.v)).attr("height", d => y(0.5) - y(d.v))
      .attr("fill", jCols[gi].f).attr("stroke", jCols[gi].s).attr("stroke-width", 3.5);
    data.forEach((d, k) => {
      const cx = x(d.key) + x.bandwidth() / 2;
      label(p.g, cx + 21, y(d.v) - 26, d.name, {
        rot: -90, size: 59,
        fill: gi === 0 && k === 0 ? "#f76b6b" : "#3a3a3a"
      });
    });
    const c0 = x(data[0].key), c1 = x(data[data.length - 1].key) + x.bandwidth();
    label(svg, (c0 + c1) / 2, 4578, jGroups[gi], { anchor: "middle", weight: "bold", size: 58 });
  });
  addAxis(p, () => d3.axisLeft(y), `translate(${b.l},0)`, [0.6, 0.8, 1.0, 1.2], [0.7, 0.9, 1.1], f1, 11);
  box(p);
  yTitle(120, 4039, "Potential (V)");
  badge(122, 3629, "J");
}
</script>
</body>
</html>
